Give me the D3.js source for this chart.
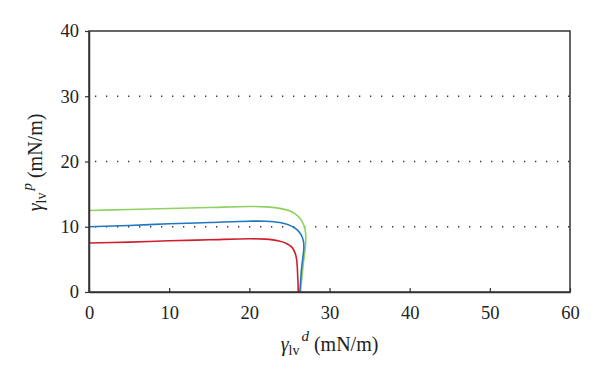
<!DOCTYPE html>
<html>
<head>
<meta charset="utf-8">
<script src="https://cdn.jsdelivr.net/npm/d3@7"></script>
<style>
  body { margin: 0; background: #fff; }
  text { font-family: "Liberation Serif", "DejaVu Serif", serif; fill: #222; }
</style>
</head>
<body>
<div id="chart"></div>
<script>
// Data
var xTicks = [0, 10, 20, 30, 40, 50, 60];
var yTicks = [0, 10, 20, 30, 40];
var gridValues = [10, 20, 30];

var greenX = [0, 5, 10, 15, 20, 22, 23.6, 25.1, 26.0, 26.6, 26.95, 27.05, 26.95, 26.75, 26.55, 26.4];
var greenY = [12.5, 12.65, 12.8, 12.95, 13.1, 13.05, 12.85, 12.4, 11.7, 10.8, 9.6, 8.3, 6.5, 4.5, 2.2, 0];

var blueX = [0, 5, 10, 15, 20, 22, 23.8, 25.0, 25.9, 26.45, 26.75, 26.8, 26.65, 26.5, 26.4, 26.3];
var blueY = [10, 10.2, 10.45, 10.65, 10.85, 10.85, 10.65, 10.25, 9.6, 8.8, 7.8, 6.7, 5.0, 3.4, 1.7, 0];

var redX = [0, 5, 10, 15, 20, 22, 23.6, 24.7, 25.35, 25.7, 25.9, 25.98, 26.03, 26.08, 26.1];
var redY = [7.5, 7.65, 7.85, 8.0, 8.15, 8.1, 7.85, 7.4, 6.8, 6.0, 5.0, 3.8, 2.5, 1.2, 0];

var svgWidth = 600;
var svgHeight = 378;

var chartMargin = { top: 31, right: 30, bottom: 86, left: 89 };
var chartWidth = svgWidth - chartMargin.left - chartMargin.right;
var chartHeight = svgHeight - chartMargin.top - chartMargin.bottom;

var svg = d3.select("#chart")
  .append("svg")
  .attr("width", svgWidth)
  .attr("height", svgHeight);

var chartGroup = svg.append("g")
  .attr("transform", `translate(${chartMargin.left}, ${chartMargin.top})`);

var xScale = d3.scaleLinear().domain([0, 60]).range([0, chartWidth]);
var yScale = d3.scaleLinear().domain([0, 40]).range([chartHeight, 0]);

// dotted grid lines
chartGroup.selectAll(".grid")
  .data(gridValues)
  .enter()
  .append("line")
  .attr("x1", 6)
  .attr("x2", chartWidth)
  .attr("y1", d => yScale(d))
  .attr("y2", d => yScale(d))
  .attr("stroke", "#333")
  .attr("stroke-width", 1.3)
  .attr("stroke-dasharray", "1.3,9.7");

// curves
var series = [
  { xs: greenX, ys: greenY, color: "#8fd262" },
  { xs: blueX, ys: blueY, color: "#1f78c1" },
  { xs: redX, ys: redY, color: "#cf1f2a" }
];

var line = d3.line()
  .x(d => xScale(d[0]))
  .y(d => yScale(d[1]))
  .curve(d3.curveCatmullRom.alpha(0.5));

series.forEach(function(s) {
  chartGroup.append("path")
    .datum(s.xs.map((x, i) => [x, s.ys[i]]))
    .attr("fill", "none")
    .attr("stroke", s.color)
    .attr("stroke-width", 1.6)
    .attr("d", line);
});

// frame
chartGroup.append("rect")
  .attr("width", chartWidth)
  .attr("height", chartHeight)
  .attr("fill", "none")
  .attr("stroke", "#333")
  .attr("stroke-width", 1.5);

// axes
var bottomAxis = d3.axisBottom(xScale).tickValues(xTicks).tickSizeInner(-4).tickSizeOuter(0).tickPadding(10);
var leftAxis = d3.axisLeft(yScale).tickValues(yTicks).tickSize(4).tickSizeOuter(0).tickPadding(6);

var xAxisG = chartGroup.append("g")
  .attr("transform", `translate(0, ${chartHeight})`)
  .call(bottomAxis);

var yAxisG = chartGroup.append("g")
  .call(leftAxis);

[xAxisG, yAxisG].forEach(function(g) {
  g.select(".domain").attr("stroke", "#333").attr("stroke-width", 1.5);
  g.selectAll(".tick line").attr("stroke", "#333").attr("stroke-width", 1.2);
  g.selectAll(".tick text")
    .style("font-family", "'Liberation Serif', serif")
    .style("font-size", "18.5px")
    .attr("fill", "#222");
});
xAxisG.selectAll(".tick text").attr("dy", "0.9em");

// axis labels
var xLabel = svg.append("text")
  .attr("x", chartMargin.left + chartWidth / 2)
  .attr("y", 351)
  .attr("text-anchor", "middle")
  .style("font-size", "20px");
xLabel.append("tspan").style("font-style", "italic").text("γ");
xLabel.append("tspan").attr("dy", 4).style("font-size", "14px").text("lv");
xLabel.append("tspan").attr("dy", -14).attr("dx", 2).style("font-size", "15px").style("font-style", "italic").text("d");
xLabel.append("tspan").attr("dy", 10).text(" (mN/m)");

var yLabel = svg.append("text")
  .attr("transform", `translate(42, ${chartMargin.top + chartHeight / 2 + 1}) rotate(-90)`)
  .attr("text-anchor", "middle")
  .style("font-size", "20px");
yLabel.append("tspan").style("font-style", "italic").text("γ");
yLabel.append("tspan").attr("dy", 4).style("font-size", "14px").text("lv");
yLabel.append("tspan").attr("dy", -14).attr("dx", 2).style("font-size", "15px").style("font-style", "italic").text("p");
yLabel.append("tspan").attr("dy", 10).text(" (mN/m)");
</script>
</body>
</html>
